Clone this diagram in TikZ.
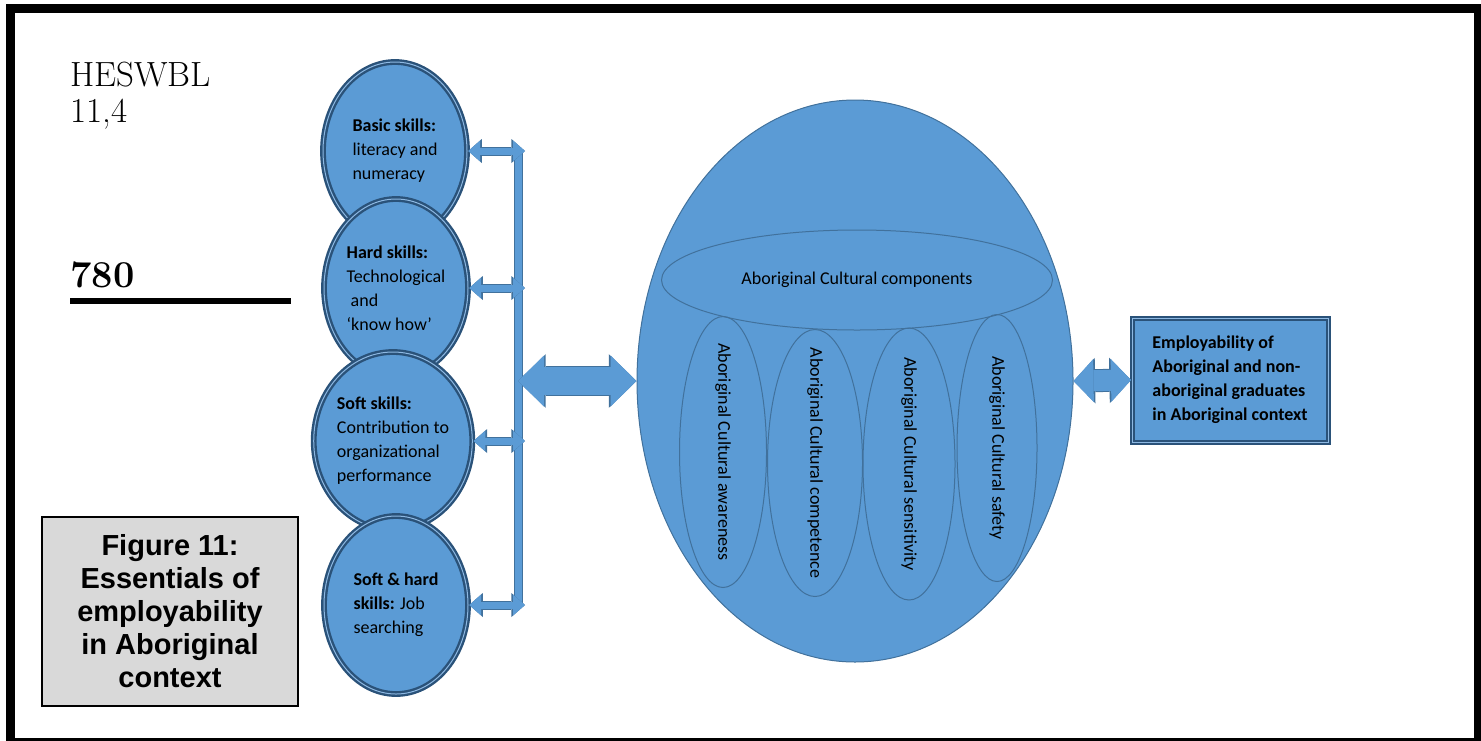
\documentclass[tikz,border=0pt]{standalone}
\usepackage{fontspec}
\usepackage{tikz}
\usetikzlibrary{calc,positioning,shapes,arrows.meta}
\newfontfamily\carlito{Carlito}[Ligatures=TeX]
\newfontfamily\arialfont{Liberation Sans}
\definecolor{ablue}{HTML}{5B9BD5}
\definecolor{aline}{HTML}{41719C}
\definecolor{adark}{HTML}{2A5279}
\definecolor{alight}{HTML}{8DB8E2}
\definecolor{agrey}{HTML}{D9D9D9}

\begin{document}
\begin{tikzpicture}[x=0.5pt, y=-0.5pt,
            skill/.style = {ellipse, fill=ablue, draw=adark, double=alight, double distance=0.5pt,
                    line width=1.2pt, minimum width=72pt, minimum height=89pt, inner sep=0pt,
                    align=left, font=\carlito\fontsize{9}{12}\selectfont},
            culture/.style = {ellipse, draw=aline, line width=0.5pt, inner sep=0pt},
            culturetext/.style = {rotate=-90, inner sep=0pt, font=\carlito\fontsize{9}{11}\selectfont},
            bar/.style = {draw=ablue, line width=3.5pt, preaction={draw=aline, line width=4.5pt}},
            smallarrow/.style = {draw=ablue, line width=3.5pt,
                    {Triangle[length=6pt,width=10.5pt,line width=0pt]}-{Triangle[length=6pt,width=10.5pt,line width=0pt]},
                    preaction={draw=aline, line width=4.5pt,
                    {Triangle[length=6.8pt,width=12pt,line width=0pt]}-{Triangle[length=6.8pt,width=12pt,line width=0pt]}}},
            bigarrow/.style = {draw=ablue, line width=14pt,
                    {Triangle[length=13pt,width=25.5pt,line width=0pt]}-{Triangle[length=13pt,width=25.5pt,line width=0pt]},
                    preaction={draw=aline, line width=15pt,
                    {Triangle[length=13.8pt,width=26.8pt,line width=0pt]}-{Triangle[length=13.8pt,width=26.8pt,line width=0pt]}}},
            sidearrow/.style = {draw=ablue, line width=10.5pt,
                    {Triangle[length=10pt,width=21.5pt,line width=0pt]}-{Triangle[length=10pt,width=21.5pt,line width=0pt]},
                    preaction={draw=aline, line width=11.5pt,
                    {Triangle[length=10.8pt,width=22.8pt,line width=0pt]}-{Triangle[length=10.8pt,width=22.8pt,line width=0pt]}}},
        ]

        \useasboundingbox (0,0) rectangle (1481,740);
        \draw[line width=4.5pt] (10.5,8) rectangle (1478,742);

        \node[anchor=north west, inner sep=0pt, align=left, font=\fontsize{17.5}{18}\selectfont] (journal) at (70,62) {HESWBL\\11,4};
        \node[anchor=south west, inner sep=0pt, font=\bfseries\fontsize{19}{19}\selectfont] (page) at (70,288) {780};
        \draw[line width=3pt] ([yshift=-6.5pt]page.south west) -- ++(221,0);

        \node[draw, fill=agrey, line width=0.7pt, minimum width=128pt, minimum height=94.5pt, align=center,
            font=\arialfont\bfseries\fontsize{14.5}{16.5}\selectfont] (caption) at (170,611.5)
            {Figure 11:\\Essentials of\\employability\\in Aboriginal\\context};

        \node[skill] (s1) at (395,151) {\textbf{Basic skills:}\\literacy and\\numeracy};
        \node[skill] (s2) at (396,288) {\textbf{Hard skills:}\\Technological\\\hspace*{2pt}and\\`know how'};
        \node[skill] (s3) at (393,441) {\textbf{Soft skills:}\\Contribution to\\organizational\\performance};
        \node[skill] (s4) at (396,605) {\textbf{Soft \& hard}\\\textbf{skills:} Job\\searching};

        \coordinate (bartop) at (518,152);
        \coordinate (barbot) at (518,606);
        \draw[bar] (bartop) -- (barbot);
        \foreach \i in {1,...,4}
            {
                \draw[smallarrow] (s\i.east) -- ($(s\i.east -| bartop)+(7,0)$);
            }

        \node[ellipse, fill=ablue, draw=aline, line width=0.5pt, minimum width=218pt, minimum height=281pt] (core) at (855,381) {};
        \node[ellipse, draw=aline, line width=0.5pt, minimum width=195.5pt, minimum height=50pt,
            font=\carlito\fontsize{9}{11}\selectfont] (parts) at (857,280) {Aboriginal Cultural components};
        \foreach \x/\y/\w/\h/\t in {723/452/43.5pt/135.5pt/awareness, 815/463/47.5pt/133.5pt/competence,
                909/464/46pt/136pt/sensitivity, 997/448/40pt/133.5pt/safety}
            {
                \node[culture, minimum width=\w, minimum height=\h] (c-\t) at (\x,\y) {};
                \node[culturetext] at (c-\t) {Aboriginal Cultural \t};
            }

        \node[fill=ablue, draw=adark, double=alight, double distance=0.5pt, line width=1pt,
            minimum width=98pt, minimum height=62pt, align=left,
            font=\carlito\bfseries\fontsize{9}{12}\selectfont] (emp) at (1230,380)
            {Employability of\\Aboriginal and non-\\aboriginal graduates\\in Aboriginal context};

        \draw[bigarrow] (core.west -| bartop) -- (core.west);
        \draw[sidearrow] (core.east) -- (emp.west);
    \end{tikzpicture}
\end{document}
